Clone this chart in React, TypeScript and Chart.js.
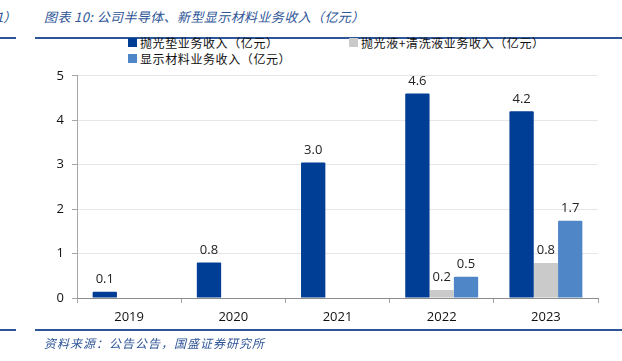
import React, { useEffect, useRef } from "react";
import { Chart, registerables } from "chart.js";

Chart.register(...registerables);

const categories = ["2019", "2020", "2021", "2022", "2023"];
const padRevenue = [0.14, 0.8, 3.05, 4.6, 4.2];
const slurryRevenue = [null, null, null, 0.18, 0.79];
const displayRevenue = [null, null, null, 0.48, 1.74];
const seriesNames = [
  "抛光垫业务收入（亿元）",
  "抛光液+清洗液业务收入（亿元）",
  "显示材料业务收入（亿元）",
];
const seriesColors = ["#003D94", "#CACACA", "#4F86C7"];
const yTicks = [0, 1, 2, 3, 4, 5];
const titleText = "图表 10:  公司半导体、新型显示材料业务收入（亿元）";
const sourceText = "资料来源：公告公告，国盛证券研究所";

const labelPlugin = {
  id: "valueLabels",
  afterDatasetsDraw(chart: any) {
    const ctx = chart.ctx;
    ctx.save();
    ctx.font = "13px 'Open Sans', sans-serif";
    ctx.fillStyle = "#222";
    ctx.textAlign = "center";
    ctx.textBaseline = "bottom";
    chart.data.datasets.forEach((ds: any, i: number) => {
      const meta = chart.getDatasetMeta(i);
      meta.data.forEach((bar: any, j: number) => {
        const v = ds.data[j];
        if (v == null) return;
        ctx.fillText(v.toFixed(1), bar.x, bar.y - 6);
      });
    });
    ctx.restore();
  },
};

export default function App() {
  const ref = useRef<HTMLCanvasElement>(null);
  useEffect(() => {
    if (!ref.current) return;
    const chart = new Chart(ref.current, {
      type: "bar",
      data: {
        labels: categories,
        datasets: [padRevenue, slurryRevenue, displayRevenue].map((d, i) => ({
          label: seriesNames[i],
          data: d as any,
          backgroundColor: seriesColors[i],
          barPercentage: 1,
          categoryPercentage: 0.7,
          borderRadius: 1,
        })),
      },
      options: {
        animation: false,
        responsive: false,
        maintainAspectRatio: false,
        layout: { padding: { left: 0, right: 24, top: 11, bottom: 0 } },
        plugins: { legend: { display: false }, tooltip: { enabled: false } },
        scales: {
          x: {
            offset: true,
            grid: {
              offset: true,
              drawOnChartArea: false,
              tickLength: 5,
              color: "#a6a6a6",
            },
            border: { color: "#8c8c8c" },
            ticks: {
              color: "#111",
              font: { family: "'Open Sans', sans-serif", size: 13 },
              padding: 6,
            },
            afterFit: (s: any) => {
              s.height = 32;
            },
          },
          y: {
            min: 0,
            max: 5,
            afterBuildTicks: (s: any) => {
              s.ticks = yTicks.map((v) => ({ value: v }));
            },
            grid: {
              color: "#e6e6e6",
              tickLength: 5,
              tickColor: "#a6a6a6",
            },
            border: { color: "#a6a6a6" },
            ticks: {
              color: "#111",
              font: { family: "'Open Sans', sans-serif", size: 13 },
              padding: 8,
            },
            afterFit: (s: any) => {
              s.width = 77;
            },
          },
        },
      },
      plugins: [labelPlugin],
    });
    return () => chart.destroy();
  }, []);

  const legendItem = (i: number, left: number, top: number) => (
    <div
      style={{
        position: "absolute",
        left,
        top,
        display: "flex",
        alignItems: "center",
        fontSize: 12,
        letterSpacing: 0.6,
        color: "#111",
        whiteSpace: "nowrap",
      }}
    >
      <span
        style={{
          display: "inline-block",
          width: 9,
          height: 9,
          background: seriesColors[i],
          marginRight: 3,
        }}
      />
      {seriesNames[i]}
    </div>
  );

  return (
    <div
      style={{
        position: "absolute",
        left: 0,
        top: 0,
        width: 622,
        height: 361,
        background: "#fff",
        overflow: "hidden",
        fontFamily: "'Noto Sans CJK SC', sans-serif",
      }}
    >
      <div
        style={{
          position: "absolute",
          left: -4,
          top: 7,
          fontSize: 13,
          fontStyle: "italic",
          color: "#2E5597",
        }}
      >
        1）
      </div>
      <div
        style={{
          position: "absolute",
          left: 44,
          top: 7,
          fontSize: 13,
          letterSpacing: 0.4,
          fontStyle: "italic",
          color: "#2E5597",
          whiteSpace: "nowrap",
        }}
      >
        {titleText}
      </div>
      <div style={{ position: "absolute", left: 0, top: 37, width: 16, height: 2, background: "#2E5597" }} />
      <div style={{ position: "absolute", left: 35, top: 37, width: 587, height: 2, background: "#2E5597" }} />
      {legendItem(0, 128, 34)}
      {legendItem(1, 349, 34)}
      {legendItem(2, 128, 50)}
      <canvas
        ref={ref}
        width={622}
        height={270}
        style={{ position: "absolute", left: 0, top: 60, width: 622, height: 270 }}
      />
      <div style={{ position: "absolute", left: 0, top: 329, width: 16, height: 2, background: "#2E5597" }} />
      <div style={{ position: "absolute", left: 35, top: 329, width: 587, height: 2, background: "#2E5597" }} />
      <div
        style={{
          position: "absolute",
          left: 44,
          top: 334,
          fontSize: 12,
          letterSpacing: 1,
          fontStyle: "italic",
          color: "#2E5597",
          whiteSpace: "nowrap",
        }}
      >
        {sourceText}
      </div>
    </div>
  );
}
